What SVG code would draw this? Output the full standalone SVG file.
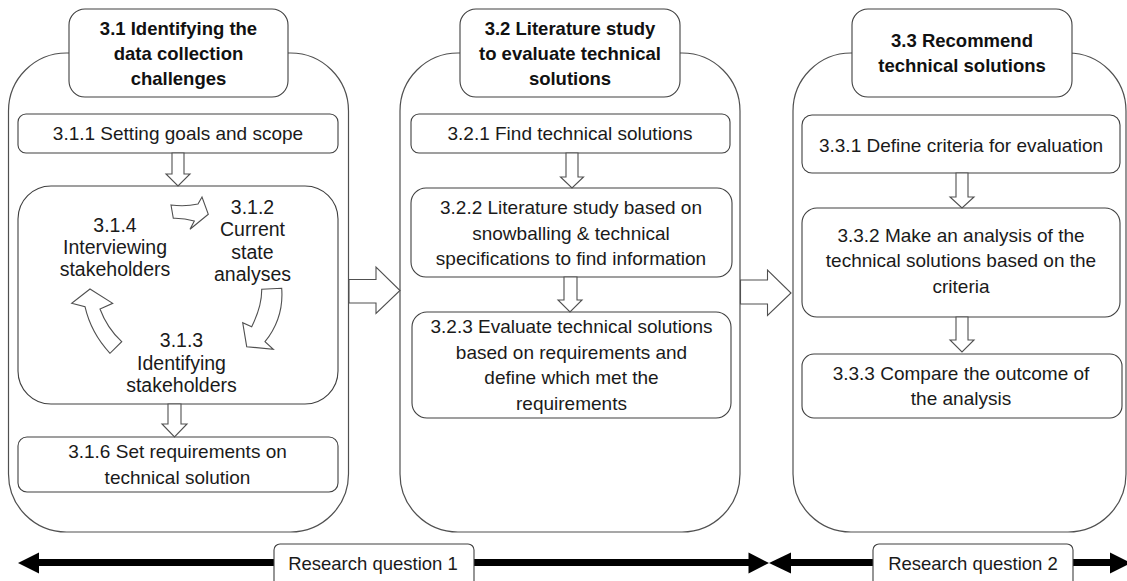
<svg xmlns="http://www.w3.org/2000/svg" width="1127" height="581" viewBox="0 0 1127 581">
<style>
.frame{fill:#fff;stroke:#505050;stroke-width:1.2}
.box{fill:#fff;stroke:#404040;stroke-width:1.1}
.blk{fill:#fff;stroke:#505050;stroke-width:1.1;stroke-linejoin:miter}
.t{font-family:"Liberation Sans",Arial,sans-serif;font-size:19px;fill:#1a1a1a;text-anchor:middle}
.lp{font-family:"Liberation Sans",Arial,sans-serif;font-size:19.5px;fill:#1a1a1a;text-anchor:middle}
.h{font-family:"Liberation Sans",Arial,sans-serif;font-size:18.5px;font-weight:bold;fill:#111;text-anchor:middle}
.rq{font-family:"Liberation Sans",Arial,sans-serif;font-size:18.5px;fill:#1a1a1a;text-anchor:middle}
.bar{stroke:#000;stroke-width:7}
.head{fill:#000}
</style>
<rect width="1127" height="581" fill="#fff"/>

<g id="phase1">
  <rect class="frame" x="8.5" y="53" width="340" height="479" rx="58" ry="58"/>
  <g id="title31">
    <rect class="box" x="69" y="9" width="219" height="88" rx="16"/>
    <text class="h" x="178.5" y="35">3.1 Identifying the</text>
    <text class="h" x="178.5" y="60">data collection</text>
    <text class="h" x="178.5" y="85">challenges</text>
  </g>
  <g id="n311">
    <rect class="box" x="18" y="114" width="320" height="39" rx="8"/>
    <text class="t" x="178" y="140">3.1.1 Setting goals and scope</text>
  </g>
  <g id="loop">
    <rect class="box" x="18" y="186" width="320" height="218" rx="33"/>
    <g id="n314">
      <text class="lp" x="115" y="232">3.1.4</text>
      <text class="lp" x="115" y="254">Interviewing</text>
      <text class="lp" x="115" y="276">stakeholders</text>
    </g>
    <g id="n312">
      <text class="lp" x="252.5" y="213.5">3.1.2</text>
      <text class="lp" x="252.5" y="236">Current</text>
      <text class="lp" x="252.5" y="258.5">state</text>
      <text class="lp" x="252.5" y="281">analyses</text>
    </g>
    <g id="n313">
      <text class="lp" x="181.5" y="347">3.1.3</text>
      <text class="lp" x="181.5" y="369.5">Identifying</text>
      <text class="lp" x="181.5" y="392">stakeholders</text>
    </g>
  </g>
  <g id="n316">
    <rect class="box" x="18" y="437" width="320" height="55" rx="9"/>
    <text class="t" x="177.5" y="458">3.1.6 Set requirements on</text>
    <text class="t" x="177.5" y="484">technical solution</text>
  </g>
</g>

<g id="phase2">
  <rect class="frame" x="400" y="53" width="340" height="479" rx="58" ry="58"/>
  <g id="title32">
    <rect class="box" x="460" y="9" width="220" height="88" rx="16"/>
    <text class="h" x="570" y="35">3.2 Literature study</text>
    <text class="h" x="570" y="60">to evaluate technical</text>
    <text class="h" x="570" y="85">solutions</text>
  </g>
  <g id="n321">
    <rect class="box" x="411" y="114" width="319" height="39" rx="8"/>
    <text class="t" x="570" y="140">3.2.1 Find technical solutions</text>
  </g>
  <g id="n322">
    <rect class="box" x="411" y="188" width="321" height="89" rx="15"/>
    <text class="t" x="571" y="213.5">3.2.2 Literature study based on</text>
    <text class="t" x="571" y="239.5">snowballing &amp; technical</text>
    <text class="t" x="571" y="265">specifications to find information</text>
  </g>
  <g id="n323">
    <rect class="box" x="412" y="312" width="319" height="106" rx="15"/>
    <text class="t" x="571.5" y="333">3.2.3 Evaluate technical solutions</text>
    <text class="t" x="571.5" y="358.5">based on requirements and</text>
    <text class="t" x="571.5" y="384">define which met the</text>
    <text class="t" x="571.5" y="409.5">requirements</text>
  </g>
</g>

<g id="phase3">
  <rect class="frame" x="793" y="53" width="333" height="479" rx="58" ry="58"/>
  <g id="title33">
    <rect class="box" x="852" y="9" width="220" height="88" rx="16"/>
    <text class="h" x="962" y="47">3.3 Recommend</text>
    <text class="h" x="962" y="72">technical solutions</text>
  </g>
  <g id="n331">
    <rect class="box" x="802" y="115" width="318" height="58" rx="10"/>
    <text class="t" x="961" y="151.5">3.3.1 Define criteria for evaluation</text>
  </g>
  <g id="n332">
    <rect class="box" x="802" y="208" width="318" height="109" rx="15"/>
    <text class="t" x="961" y="241.5">3.3.2 Make an analysis of the</text>
    <text class="t" x="961" y="267">technical solutions based on the</text>
    <text class="t" x="961" y="292.5">criteria</text>
  </g>
  <g id="n333">
    <rect class="box" x="802" y="354" width="320" height="64" rx="12"/>
    <text class="t" x="961" y="380">3.3.3 Compare the outcome of</text>
    <text class="t" x="961" y="405">the analysis</text>
  </g>
</g>

<g id="connectors">
  <!-- down block arrows -->
  <path class="blk" d="M172,153 L184,153 L184,174 L190,174 L178,186 L166,174 L172,174 Z"/>
  <path class="blk" d="M168,404 L181,404 L181,424 L187,424 L174.5,437 L162,424 L168,424 Z"/>
  <path class="blk" d="M566,153 L578,153 L578,177 L583.5,177 L572,188 L560.5,177 L566,177 Z"/>
  <path class="blk" d="M564,277 L577,277 L577,300 L582,300 L570,312 L558,300 L564,300 Z"/>
  <path class="blk" d="M956,173 L968,173 L968,197 L974,197 L962,208 L950,197 L956,197 Z"/>
  <path class="blk" d="M956,317 L968,317 L968,340 L974,340 L962,352 L950,340 L956,340 Z"/>
  <!-- loop curved arrows -->
  <path class="blk" d="M171,205 Q185,207 198,204 L202,197 L208.3,214.3 L190,229.3 L194.3,221 Q184,218 173.3,218.3 Z"/>
  <path class="blk" d="M261.7,289.3 L281.7,288.3 Q284,318 265,341.7 L273.3,349.3 L246.7,346.7 L242.7,322.7 L251.7,326.7 Q262,306 261.7,289.3 Z"/>
  <path class="blk" d="M90,289 L112.7,303.3 L100,309 Q107,328 121.7,341.7 L110,353.3 Q91,333 85,306.7 L71.7,303.3 Z"/>
  <!-- phase arrows -->
  <path class="blk" d="M349,279.5 L376,279.5 L376,267 L400,290.5 L376,313.5 L376,303 L349,303 Z"/>
  <path class="blk" d="M740.5,280 L767.5,280 L767.5,270 L791,293 L767.5,315.5 L767.5,304 L740.5,304 Z"/>
  <!-- research question bars -->
  <line class="bar" x1="36" y1="562.5" x2="274" y2="562.5"/>
  <line class="bar" x1="474" y1="562.5" x2="752" y2="562.5"/>
  <polygon class="head" points="18,563 39,552.5 39,573.5"/>
  <polygon class="head" points="769,563 748.5,552.5 748.5,573.5"/>
  <line class="bar" x1="788" y1="562.5" x2="873" y2="562.5"/>
  <line class="bar" x1="1073" y1="562.5" x2="1112" y2="562.5"/>
  <polygon class="head" points="769,563 791,552.5 791,573.5"/>
  <polygon class="head" points="1131,563 1110,552.5 1110,573.5"/>
</g>

<g id="rq1">
  <rect class="box" x="274" y="544" width="200" height="50" rx="6"/>
  <text class="rq" x="373" y="570">Research question 1</text>
</g>
<g id="rq2">
  <rect class="box" x="873" y="544" width="200" height="50" rx="6"/>
  <text class="rq" x="973" y="570">Research question 2</text>
</g>
</svg>
